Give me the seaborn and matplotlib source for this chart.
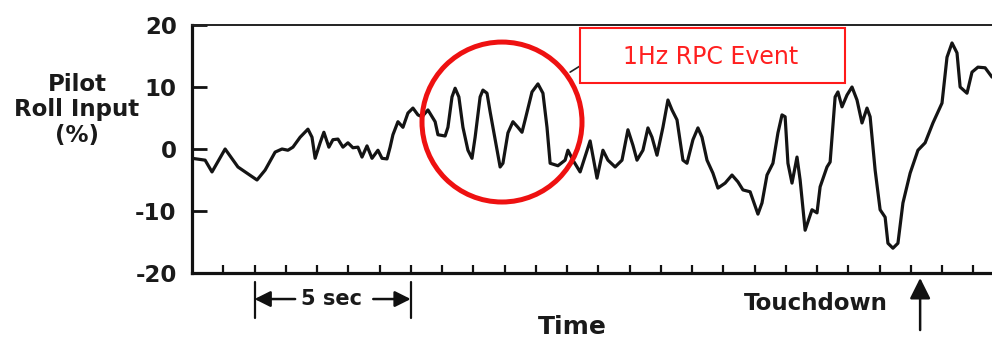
import matplotlib
matplotlib.use("Agg")
import matplotlib.pyplot as plt
from matplotlib.patches import Ellipse, Rectangle
import seaborn as sns
import pandas as pd

# ---- data (time in seconds, pilot roll input in %) ----
time_s = [0.00, 0.42, 0.64, 1.06, 1.47, 1.76, 2.08, 2.34, 2.66, 2.88, 3.07, 3.23, 3.46, 3.71, 3.84,
          3.94, 4.10, 4.22, 4.38, 4.51, 4.67, 4.83, 4.99, 5.15, 5.31, 5.44, 5.60, 5.76, 5.95, 6.08,
          6.24, 6.34, 6.43, 6.59, 6.75, 6.91, 7.07, 7.23, 7.36, 7.55, 7.78, 7.87, 8.10, 8.19, 8.32,
          8.42, 8.54, 8.67, 8.83, 8.96, 9.06, 9.22, 9.31, 9.44, 9.54, 9.70, 9.86, 9.95, 10.11, 10.27,
          10.43, 10.56, 10.66, 10.88, 11.07, 11.23, 11.36, 11.46, 11.71, 11.94, 12.03, 12.19, 12.42,
          12.74, 12.96, 13.15, 13.31, 13.54, 13.76, 13.95, 14.11, 14.24, 14.43, 14.59, 14.72, 14.88,
          15.07, 15.23, 15.36, 15.52, 15.71, 15.84, 16.03, 16.19, 16.32, 16.48, 16.67, 16.83, 17.06,
          17.28, 17.47, 17.63, 17.86, 17.95, 18.11, 18.24, 18.40, 18.59, 18.75, 18.88, 18.98, 19.07,
          19.20, 19.36, 19.46, 19.62, 19.84, 20.00, 20.10, 20.32, 20.42, 20.58, 20.67, 20.80, 20.96,
          21.12, 21.28, 21.44, 21.60, 21.70, 21.86, 22.02, 22.18, 22.27, 22.43, 22.59, 22.75, 22.98,
          23.23, 23.46, 23.71, 24.00, 24.16, 24.32, 24.48, 24.58, 24.80, 24.96, 25.15, 25.38, 25.60]
roll_pct = [-1.5, -1.8, -3.7, 0.0, -2.9, -3.9, -5.0, -3.4, -0.5, 0.0, -0.2, 0.3, 1.9, 3.2, 1.9,
            -1.5, 1.0, 2.7, 0.3, 1.5, 1.6, 0.3, 1.0, 0.2, 0.3, -1.3, 0.5, -1.5, -0.2, -1.5,
            -1.6, 0.3, 2.3, 4.4, 3.5, 5.8, 6.6, 5.5, 5.2, 6.3, 4.4, 2.3, 2.1, 3.5, 8.4,
            9.8, 8.4, 3.5, -0.2, -1.5, 1.9, 8.4, 9.5, 9.0, 6.0, 1.5, -2.9, -2.3, 2.6, 4.4,
            3.5, 2.7, 4.7, 9.2, 10.5, 9.0, 3.5, -2.3, -2.7, -1.8, -0.2, -1.8, -3.7,
            1.3, -4.7, -0.2, -1.8, -2.9, -1.8, 3.1, 0.6, -1.8, -0.2, 3.4, 1.9, -1.0,
            3.5, 7.9, 6.3, 4.7, -1.8, -2.3, 1.5, 3.4, 1.9, -1.8, -3.9, -6.3, -5.5,
            -4.2, -5.3, -6.6, -6.9, -8.2, -10.5, -8.7, -4.2, -2.3, 2.6, 5.5, 5.2, -2.3,
            -5.5, -1.3, -5.0, -13.1, -9.8, -10.3, -6.1, -2.9, -2.1, 8.4, 9.2, 6.8, 8.7,
            10.0, 7.9, 4.2, 6.6, 5.2, -3.4, -9.8, -11.0, -15.2, -16.0, -15.2, -8.7, -3.9,
            -0.2, 1.0, 4.2, 7.4, 14.8, 17.1, 15.5, 10.0, 9.0, 12.4, 13.2, 13.1, 11.6]
y_ticks = [-20, -10, 0, 10, 20]
y_tick_labels = ["-20", "-10", "0", "10", "20"]
x_ticks = list(range(1, 26))
five_sec_span = [2, 7]
touchdown_t = 23.3

sns.set_theme(style="white")
plt.rcParams["font.family"] = ["DejaVu Sans"]

df = pd.DataFrame({"t": time_s, "roll": roll_pct})

fig = plt.figure(figsize=(9.92, 3.43), dpi=100)
ax = fig.add_axes([192 / 992, 70 / 343, 800 / 992, 248 / 343])

sns.lineplot(data=df, x="t", y="roll", color="#141414", linewidth=2.3, ax=ax, zorder=3)

ax.set_xlim(0, 25.6)
ax.set_ylim(-20, 20)
ax.set_xlabel("")
ax.set_ylabel("")

for s in ["left", "bottom"]:
    ax.spines[s].set_linewidth(2.3)
    ax.spines[s].set_color("#111111")
ax.spines["top"].set_linewidth(1.4)
ax.spines["top"].set_color("#222222")
ax.spines["right"].set_visible(False)

ax.set_xticks(x_ticks)
ax.tick_params(axis="x", direction="in", length=6, width=1.6, colors="#111111",
               labelbottom=False, bottom=True, top=False)
ax.set_yticks(y_ticks)
ax.set_yticklabels(y_tick_labels, fontweight="bold", fontsize=16.5, color="#1a1a1a")
ax.tick_params(axis="y", direction="in", length=11, width=2.0, colors="#111111",
               pad=11, left=True, right=False)
for lab in ax.get_yticklabels():
    lab.set_color("#1a1a1a")

# y label
fig.text(77 / 992, 1 - 110 / 343, "Pilot\nRoll Input\n(%)", ha="center", va="center",
         fontsize=16.5, fontweight="bold", color="#1a1a1a", linespacing=1.15)

# x label & touchdown
fig.text(572 / 992, 1 - 327 / 343, "Time", ha="center", va="center",
         fontsize=18, fontweight="bold", color="#1a1a1a")
fig.text(816 / 992, 1 - 303 / 343, "Touchdown", ha="center", va="center",
         fontsize=16.5, fontweight="bold", color="#1a1a1a")

xt = ax.get_xaxis_transform()
ax.annotate("", xy=(touchdown_t, -0.02), xytext=(touchdown_t, -0.23),
            xycoords=xt, textcoords=xt, annotation_clip=False,
            arrowprops=dict(arrowstyle="-|>,head_length=0.7,head_width=0.35", lw=1.8,
                            color="#111111", shrinkA=0, shrinkB=0, mutation_scale=18))

# 5 sec marker
for xb in five_sec_span:
    ax.plot([xb, xb], [-0.036, -0.18], transform=xt, color="#111111", lw=1.6, clip_on=False)
ax.annotate("", xy=(five_sec_span[0], -0.105), xytext=(3.3, -0.105),
            xycoords=xt, textcoords=xt, annotation_clip=False,
            arrowprops=dict(arrowstyle="-|>,head_length=0.6,head_width=0.3", lw=1.8,
                            color="#111111", shrinkA=0, shrinkB=0, mutation_scale=16))
ax.annotate("", xy=(five_sec_span[1], -0.105), xytext=(5.8, -0.105),
            xycoords=xt, textcoords=xt, annotation_clip=False,
            arrowprops=dict(arrowstyle="-|>,head_length=0.6,head_width=0.3", lw=1.8,
                            color="#111111", shrinkA=0, shrinkB=0, mutation_scale=16))
ax.text(4.45, -0.105, "5 sec", transform=xt, ha="center", va="center",
        fontsize=15, fontweight="bold", color="#1a1a1a", clip_on=False)

# red circle and box
ax.add_patch(Ellipse((9.92, 4.35), 5.12, 25.8, fill=False, ec="#ee1111", lw=3.6, zorder=4))
ax.plot([12.1, 12.42], [12.4, 13.4], color="#222222", lw=1.2, zorder=3)
ax.add_patch(Rectangle((12.42, 10.6), 8.48, 8.9, fc="white", ec="#ff1a1a", lw=1.5, zorder=5))
ax.text(16.6, 14.9, "1Hz RPC Event", ha="center", va="center", fontsize=17,
        color="#ff2020", zorder=6)

fig.savefig("out.png", dpi=100)
